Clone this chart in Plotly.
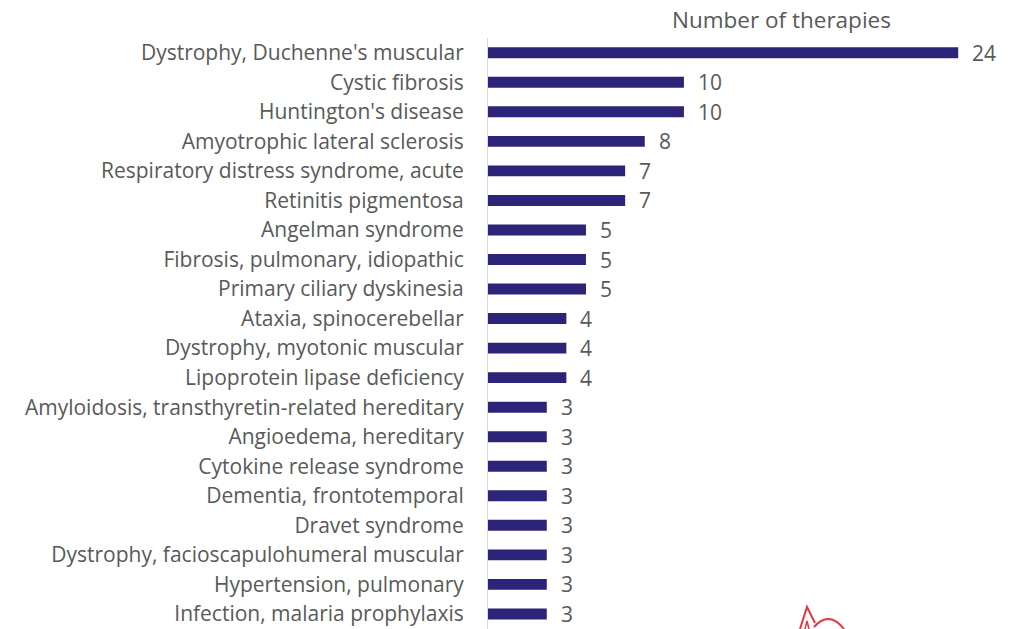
import plotly.graph_objects as go

# Therapies in development by indication
conditions = [
    "Dystrophy, Duchenne's muscular",
    "Cystic fibrosis",
    "Huntington's disease",
    "Amyotrophic lateral sclerosis",
    "Respiratory distress syndrome, acute",
    "Retinitis pigmentosa",
    "Angelman syndrome",
    "Fibrosis, pulmonary, idiopathic",
    "Primary ciliary dyskinesia",
    "Ataxia, spinocerebellar",
    "Dystrophy, myotonic muscular",
    "Lipoprotein lipase deficiency",
    "Amyloidosis, transthyretin-related hereditary",
    "Angioedema, hereditary",
    "Cytokine release syndrome",
    "Dementia, frontotemporal",
    "Dravet syndrome",
    "Dystrophy, facioscapulohumeral muscular",
    "Hypertension, pulmonary",
    "Infection, malaria prophylaxis",
]
therapies = [24, 10, 10, 8, 7, 7, 5, 5, 5, 4, 4, 4, 3, 3, 3, 3, 3, 3, 3, 3]

FONT = "Open Sans"
SIZE = 21
GREY = "#595959"
BAR = "#2C2479"

# plot area in pixels
W, H = 1025, 629
L, R, T, B = 488, 8, 38, 0
PW, PH = W - L - R, H - T - B


def px(x, y):
    """Pixel position -> paper coordinates."""
    return (x - L) / PW, (H - B - y) / PH


fig = go.Figure(
    go.Bar(
        x=therapies,
        y=conditions,
        orientation="h",
        marker=dict(color=BAR, line=dict(width=0)),
        width=0.37,
        hoverinfo="x+y",
    )
)

# value labels to the right of each bar
for c, v in zip(conditions, therapies):
    fig.add_annotation(
        x=v, y=c, text=str(v), showarrow=False,
        xanchor="left", yanchor="middle", xshift=13, yshift=0,
        height=22, valign="middle", borderpad=0,
        font=dict(family=FONT, size=SIZE, color=GREY),
    )

tx, ty = px(781, 20)
fig.add_annotation(
    x=tx, y=ty, xref="paper", yref="paper", text="Number of therapies",
    xanchor="center", yanchor="middle", showarrow=False,
    font=dict(family=FONT, size=22.5, color=GREY),
)

fig.update_layout(
    width=W, height=H,
    margin=dict(l=L, r=R, t=T, b=B),
    paper_bgcolor="white", plot_bgcolor="white",
    showlegend=False,
    font=dict(family=FONT, size=SIZE, color=GREY),
    xaxis=dict(range=[0, 27], showticklabels=False, showgrid=False,
               zeroline=False, showline=False, fixedrange=True),
    yaxis=dict(categoryorder="array", categoryarray=conditions,
               range=[19.51, -0.5], showgrid=False, zeroline=False,
               showline=True, linecolor="#D9D9D9", linewidth=1,
               ticks="", ticklabelstandoff=19,
               tickfont=dict(family=FONT, size=SIZE, color=GREY)),
)

# red logo mark peeking in at the bottom edge
RED = "#E8363F"
a = px(800, 629); b = px(807, 607); c = px(815, 623)
fig.add_shape(type="path", xref="paper", yref="paper",
              path=f"M {a[0]},{a[1]} L {b[0]},{b[1]} L {c[0]},{c[1]}",
              line=dict(color=RED, width=2))
d = px(805, 629); e = px(807, 621); f = px(809, 629)
fig.add_shape(type="path", xref="paper", yref="paper",
              path=f"M {d[0]},{d[1]} L {e[0]},{e[1]} L {f[0]},{f[1]}",
              line=dict(color=RED, width=1.5))
g = px(814, 627); h = px(829, 610); k = px(844, 629)
fig.add_shape(type="path", xref="paper", yref="paper",
              path=f"M {g[0]},{g[1]} Q {h[0]},{h[1]} {k[0]},{k[1]}",
              line=dict(color=RED, width=2))

fig.write_html("out.html")
